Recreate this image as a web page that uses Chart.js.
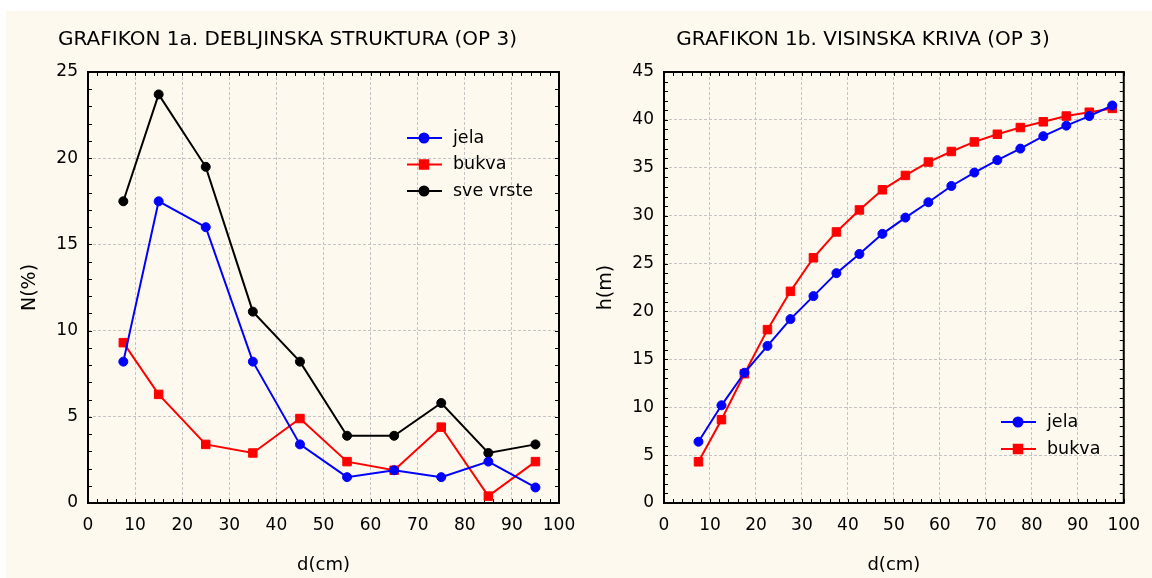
<!DOCTYPE html>
<html>
<head>
<meta charset="utf-8">
<script src="https://cdn.jsdelivr.net/npm/chart.js@4.4.0/dist/chart.umd.min.js"></script>
<style>
  html, body { margin: 0; padding: 0; background: #fff; }
  #wrap { position: relative; width: 1152px; height: 578px; overflow: hidden; }
  #bg { position: absolute; left: 6px; top: 11px; right: 0; bottom: 0; background: #fdf9ee; }
  canvas { position: absolute; top: 0; }
  #chartN { left: 0; }
  #chartH { left: 580px; }
</style>
</head>
<body>
<div id="wrap">
  <div id="bg"></div>
  <canvas id="chartN" width="600" height="578"></canvas>
  <canvas id="chartH" width="572" height="578"></canvas>
</div>
<script>
// grafikon 1a - debljinska struktura
const diamClasses = [7.5, 15, 25, 35, 45, 55, 65, 75, 85, 95];
const jelaN = [8.2, 17.5, 16.0, 8.2, 3.4, 1.5, 1.9, 1.5, 2.4, 0.9];
const bukvaN = [9.3, 6.3, 3.4, 2.9, 4.9, 2.4, 1.9, 4.4, 0.4, 2.4];
const sveN = [17.5, 23.7, 19.5, 11.1, 8.2, 3.9, 3.9, 5.8, 2.9, 3.4];

// grafikon 1b - visinska kriva
const heightD = [7.5, 12.5, 17.5, 22.5, 27.5, 32.5, 37.5, 42.5, 47.5, 52.5,
  57.5, 62.5, 67.5, 72.5, 77.5, 82.5, 87.5, 92.5, 97.5];
const jelaH = [6.4, 10.2, 13.6, 16.4, 19.2, 21.6, 24.0, 26.0, 28.1, 29.8,
  31.4, 33.1, 34.5, 35.8, 37.0, 38.3, 39.4, 40.4, 41.5];
const bukvaH = [4.3, 8.7, 13.5, 18.1, 22.1, 25.6, 28.3, 30.6, 32.7, 34.2,
  35.6, 36.7, 37.7, 38.5, 39.2, 39.8, 40.4, 40.8, 41.2];

const FONT = "'DejaVu Sans', 'Liberation Sans', Arial, sans-serif";
Chart.defaults.font.family = FONT;
Chart.defaults.font.size = 17;
Chart.defaults.color = '#000';

function pts(xs, ys) {
  return xs.map((x, i) => ({ x, y: ys[i] }));
}

function series(label, xs, ys, color, style) {
  return {
    label,
    data: pts(xs, ys),
    showLine: true,
    borderColor: color,
    backgroundColor: color,
    borderWidth: 2,
    pointStyle: style,
    pointRadius: style === 'rect' ? 6 : 4.5,
    pointBorderWidth: 1
  };
}

// frame with small inward ticks, like the statistica plots
const framePlugin = {
  id: 'frame',
  beforeDatasetsDraw(chart, args, o) {
    const { ctx, chartArea: a, scales: { x, y } } = chart;
    ctx.save();
    ctx.strokeStyle = '#000';
    ctx.lineWidth = 1;
    ctx.beginPath();
    for (let v = x.min; v <= x.max; v += o.xMinor) {
      const px = Math.round(x.getPixelForValue(v)) + 0.5;
      ctx.moveTo(px, a.bottom); ctx.lineTo(px, a.bottom - 4);
      ctx.moveTo(px, a.top); ctx.lineTo(px, a.top + 4);
    }
    for (let v = y.min; v <= y.max; v += o.yMinor) {
      const py = Math.round(y.getPixelForValue(v)) + 0.5;
      ctx.moveTo(a.left, py); ctx.lineTo(a.left + 4, py);
      ctx.moveTo(a.right, py); ctx.lineTo(a.right - 4, py);
    }
    ctx.stroke();
    ctx.lineWidth = 2;
    ctx.strokeRect(a.left, a.top, a.right - a.left, a.bottom - a.top);
    ctx.restore();
  }
};

// legend inside the plot area
const keyPlugin = {
  id: 'key',
  afterDatasetsDraw(chart, args, o) {
    const { ctx, chartArea: a } = chart;
    ctx.save();
    ctx.font = '17.5px ' + FONT;
    ctx.textBaseline = 'middle';
    chart.data.datasets.forEach((ds, i) => {
      const x0 = a.left + o.dx;
      const y0 = a.top + o.dy + i * o.row;
      ctx.strokeStyle = ds.borderColor;
      ctx.lineWidth = 2;
      ctx.beginPath();
      ctx.moveTo(x0, y0); ctx.lineTo(x0 + 35, y0);
      ctx.stroke();
      ctx.fillStyle = ds.backgroundColor;
      Chart.helpers.drawPoint(ctx, {
        pointStyle: ds.pointStyle, radius: ds.pointRadius, borderWidth: 1, rotation: 0
      }, x0 + 17, y0);
      ctx.fillStyle = '#000';
      ctx.fillText(ds.label, x0 + 46, y0);
    });
    ctx.restore();
  }
};

function makeChart(id, cfg) {
  return new Chart(document.getElementById(id), {
    type: 'scatter',
    data: { datasets: cfg.datasets },
    plugins: [framePlugin, keyPlugin],
    options: {
      responsive: false,
      animation: false,
      layout: { padding: { left: cfg.padLeft, right: cfg.padRight, top: 0, bottom: 0 } },
      plugins: {
        legend: { display: false },
        tooltip: { enabled: false },
        title: {
          display: true,
          text: cfg.title,
          font: { size: 20, weight: 'normal' },
          padding: { top: 28, bottom: 20 }
        },
        frame: { xMinor: 2, yMinor: 1 },
        key: cfg.key
      },
      scales: {
        x: {
          type: 'linear',
          min: 0, max: 100,
          ticks: { stepSize: 10, padding: 12, maxRotation: 0 },
          grid: { color: '#c4c4c4', drawTicks: false },
          border: { display: false, dash: [3, 2] },
          title: {
            display: true, text: 'd(cm)', font: { size: 18 },
            padding: { top: 0, bottom: 2.2 }
          },
          afterFit(s) { s.height = 75; }
        },
        y: {
          min: 0, max: cfg.yMax,
          ticks: { stepSize: 5, padding: 10 },
          grid: { color: '#c4c4c4', drawTicks: false },
          border: { display: false, dash: [3, 2] },
          title: {
            display: true, text: cfg.yTitle, font: { size: 19 },
            padding: { top: 2.6, bottom: 0 }
          },
          afterFit(s) { s.width = 72; }
        }
      }
    }
  });
}

window.addEventListener('DOMContentLoaded', () => {
  makeChart('chartN', {
    title: 'GRAFIKON 1a. DEBLJINSKA STRUKTURA (OP 3)',
    yTitle: 'N(%)',
    yMax: 25,
    padLeft: 16,
    padRight: 41,
    key: { dx: 319, dy: 66, row: 26.5 },
    datasets: [
      series('jela', diamClasses, jelaN, '#0000ff', 'circle'),
      series('bukva', diamClasses, bukvaN, '#ff0000', 'rect'),
      series('sve vrste', diamClasses, sveN, '#000000', 'circle')
    ]
  });

  makeChart('chartH', {
    title: 'GRAFIKON 1b. VISINSKA KRIVA (OP 3)',
    yTitle: 'h(m)',
    yMax: 45,
    padLeft: 12,
    padRight: 18,
    key: { dx: 337, dy: 350, row: 27 },
    datasets: [
      series('jela', heightD, jelaH, '#0000ff', 'circle'),
      series('bukva', heightD, bukvaH, '#ff0000', 'rect')
    ]
  });
});
</script>
</body>
</html>
